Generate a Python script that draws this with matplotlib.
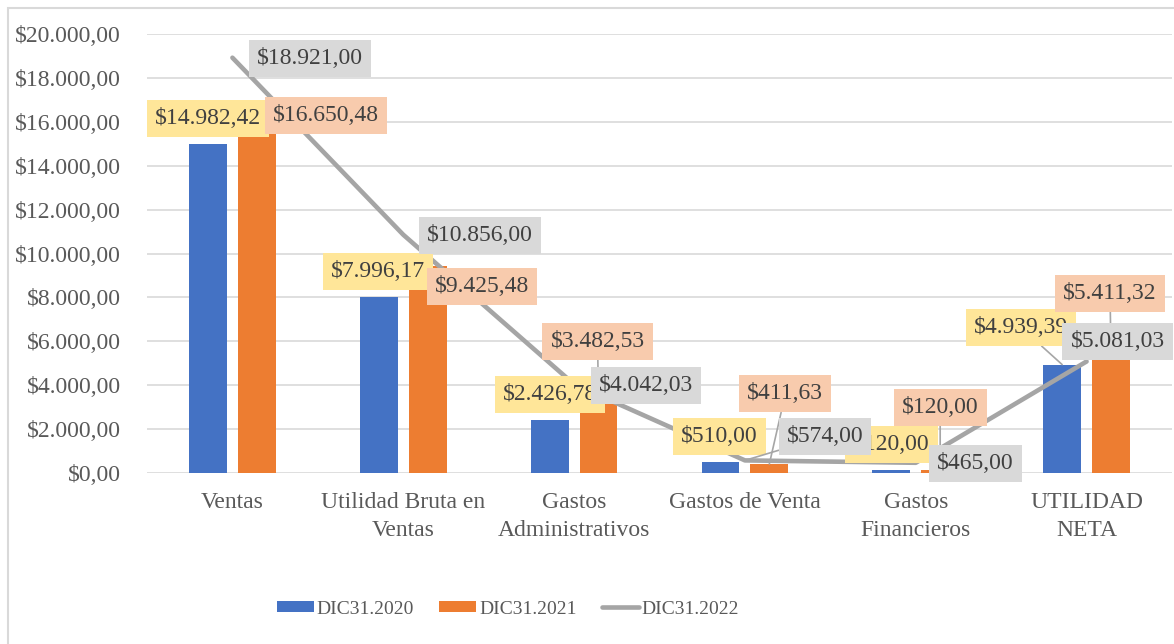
import matplotlib.pyplot as plt
from matplotlib.patches import Rectangle
from matplotlib.ticker import FuncFormatter

plt.rcParams['font.family'] = ['Liberation Serif', 'DejaVu Serif']

categorias = ['Ventas', 'Utilidad Bruta en\nVentas', 'Gastos\nAdministrativos',
              'Gastos de Venta', 'Gastos\nFinancieros', 'UTILIDAD\nNETA']
dic2020 = [14982.42, 7996.17, 2426.78, 510.00, 120.00, 4939.39]
dic2021 = [16650.48, 9425.48, 3482.53, 411.63, 120.00, 5411.32]
dic2022 = [18921.00, 10856.00, 4042.03, 574.00, 465.00, 5081.03]
series = ['DIC31.2020', 'DIC31.2021', 'DIC31.2022']

# posicion de las etiquetas (pixeles respecto al punto) y si llevan linea guia
lab2020 = [(0, 26, False), (-1, 26, False), (0, 25, False),
           (-1, 25, False), (0, 26, False), (-41, 37, True)]
lab2021 = [(69, -8, False), (54, -20, False), (-1, 55, True),
           (16, 70, True), (0, 63, True), (-1, 61, True)]
lab2022 = [(78, -1, False), (77, -1, False), (72, -1, False),
           (80, 24, True), (60, -1, False), (31, 20, False)]


def moneda(v):
    s = '{:,.2f}'.format(v)
    return '$' + s.replace(',', 'X').replace('.', ',').replace('X', '.')


fig = plt.figure(figsize=(11.74, 6.44), dpi=100)
fig.patches.append(Rectangle((8 / 1174, -0.1), 1.2, 0.1 + 1 - 8 / 644, transform=fig.transFigure,
                             fill=False, edgecolor='#D9D9D9', lw=1.5))
ax = fig.add_axes([147 / 1174, 171 / 644, 1025 / 1174, 439 / 644])

x = list(range(len(categorias)))
w = 0.222
d = 0.143
b1 = ax.bar([i - d for i in x], dic2020, w, color='#4472C4', label=series[0], zorder=2)
b2 = ax.bar([i + d for i in x], dic2021, w, color='#ED7D31', label=series[1], zorder=2)
l3, = ax.plot(x, dic2022, color='#A5A5A5', lw=3.3, label=series[2], zorder=3,
              solid_capstyle='round')

ax.set_xlim(-0.5, 5.5)
ax.set_ylim(0, 20000)
ax.set_yticks(range(0, 20001, 2000))
ax.yaxis.set_major_formatter(FuncFormatter(lambda v, p: moneda(v)))
ax.set_xticks(x)
ax.set_xticklabels(categorias, linespacing=1.4)
ax.grid(axis='y', color='#D9D9D9', lw=1.2, zorder=0)
ax.set_axisbelow(True)
for s in ax.spines.values():
    s.set_visible(False)
ax.tick_params(length=0, labelsize=17, labelcolor='#595959')
ax.tick_params(axis='y', pad=19)
ax.tick_params(axis='x', pad=14)


def etiquetas(xs, vals, lay, fondo, z):
    for xi, v, (dx, dy, guia) in zip(xs, vals, lay):
        props = None
        if guia:
            props = dict(arrowstyle='-', color='#A6A6A6', lw=1.2,
                         shrinkA=0, shrinkB=0)
        ax.annotate(moneda(v), (xi, v), xytext=(dx, dy), textcoords='offset pixels',
                    ha='center', va='center', fontsize=17, color='#404040',
                    bbox=dict(boxstyle='square,pad=0.34', fc=fondo, ec='none'),
                    arrowprops=props, zorder=z, annotation_clip=False)


etiquetas([i - d for i in x], dic2020, lab2020, '#FFE699', 4)
etiquetas([i + d for i in x], dic2021, lab2021, '#F8CBAD', 5)
etiquetas(x, dic2022, lab2022, '#D9D9D9', 6)

fig.legend([b1, b2, l3], series, loc='center', bbox_to_anchor=(508 / 1174, 1 - 609 / 644),
           ncol=3, frameon=False, fontsize=14, labelcolor='#595959', handlelength=1.9,
           handleheight=0.55, handletextpad=0.15, columnspacing=1.3)

fig.savefig('out.png', dpi=100)
